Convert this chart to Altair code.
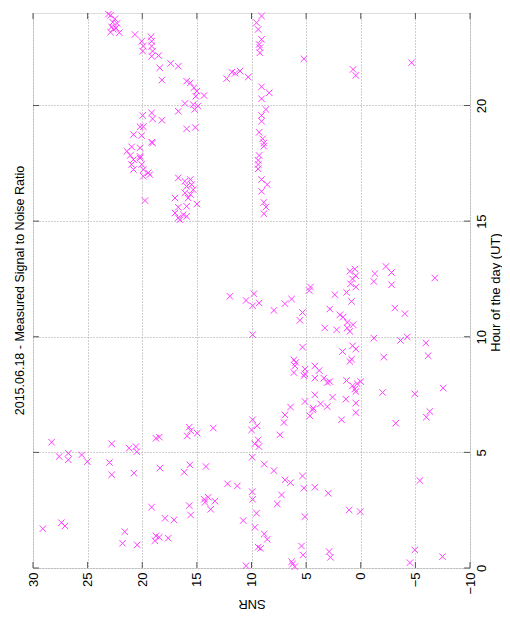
import altair as alt
import pandas as pd

# Measured points: SNR (dB) and hour of day (UT)
snr = [
    23.1, 22.9, 22.5, 22.7, 22.3, 22.8, 22.65, 22.4, 22.1, 22.9,
    20.67, 20.05, 19.9, 19.96, 19.2, 19.14, 19.14, 19.05, 19.14, 18.5, 18.4, 17.4, 16.7, 18.2,
    15.94, 15.6, 15.27, 15.0, 15.1, 14.35, 16.1, 15.33, 14.9, 15.2, 16.7, 15.94, 15.15,
    19.96, 19.14, 19.05, 18.2, 19.9, 20.2, 20.8, 20.05, 19.14, 19.05, 20.97, 21.4, 20.2, 21.1, 20.2,
    20.8, 20.2, 20.97, 20.05, 20.8, 19.9, 19.45, 19.9, 19.3, 19.75,
    16.7, 16.1, 15.6, 15.94, 15.48, 15.33, 16.1, 15.6, 15.8, 17.0, 15.0, 16.7, 15.94, 17.0, 16.25, 16.7, 15.94, 16.55,
    12.28, 11.8, 11.5, 11.05, 10.3,
    9.08, 9.54, 9.39, 9.08, 9.3, 9.23, 9.23, 5.2,
    9.08, 8.38, 9.08, 8.68, 9.08, 9.08, 9.3, 8.98, 8.87, 8.87, 9.3, 9.39, 9.39, 9.39, 9.08, 8.56, 9.08, 8.87, 8.68, 8.87,
    0.7, 0.45, -4.65,
    28.3, 27.6, 26.77, 26.77, 25.55, 25.03, 22.8, 23.0, 22.8, 21.2, 20.58, 20.5, 20.76, 18.75, 18.44, 18.38, 19.14, 17.92, 17.1,
    29.1, 27.4, 27.07, 21.6, 21.8, 20.46, 18.75, 18.44, 18.84, 17.62,
    15.7, 15.57, 15.88, 14.97, 13.5, 15.64, 16.16, 14.17, 12.19, 11.3, 15.7, 15.57, 14.33, 13.96, 14.26, 13.74, 13.35, 10.76, 10.5,
    9.9, 9.9, 9.99, 9.48, 9.39, 9.32, 9.94, 9.94, 9.9, 9.54, 9.69, 9.39,
    11.98, 10.5, 9.78, 9.9, 9.3, 7.95,
    7.4, 8.83, 7.95, 7.64, 8.83, 8.56, 9.17, 9.7,
    0.54, 1.0, 0.45, 0.75, 0.93, 0.45, 1.3, 2.37, 0.84, 4.6, 4.72, 6.33, 6.94, 5.33, 5.57, 2.83, 1.91, 1.61, 1.24, 1.0,
    3.29, 2.21, 5.33, 1.67, 0.75, 0.45, 0.84, 6.12, 5.94, 6.03, 6.12, 5.11, 5.11, 5.2, 4.2, 3.8, 3.38, 3.07, 4.2, 1.3,
    0.75, 0.54, 0.33, 0.45, 4.2, 2.58, 1.36, 5.11, 3.68, 3.07, 6.43, 4.35,
    6.94, 7.03, 4.41, 4.66, 1.76, 0.45, 6.94, 6.43, 5.33, 5.2, 4.2, 2.98, 7.25, 5.11, 1.06, 0.05, 5.42, 5.27, 2.9, 2.77,
    6.33, 6.24, 6.03,
    -2.3, -1.29, -2.82, -1.2, -2.82, -6.78, -3.12, -4.04, -1.2, -3.64, -4.25, -5.96, -6.17, -2.11, 0.0, -2.0, -4.95,
    -7.54, -6.32, -6.0, -3.2, -5.41, -4.95, -4.5, -7.48,
    2.83, 0.45, 1.0, 1.24, 0.7,
]
hour = [
    23.95, 23.9, 23.75, 23.6, 23.55, 23.4, 23.3, 23.35, 23.15, 23.17,
    23.07, 22.78, 22.57, 22.35, 22.97, 22.78, 22.57, 22.35, 22.13, 22.16, 21.63, 21.82, 21.7, 21.1,
    21.05, 20.98, 20.77, 20.62, 20.4, 20.43, 20.09, 20.04, 19.97, 19.83, 19.75, 18.99, 19.05,
    19.57, 19.68, 19.42, 19.36, 19.08, 19.08, 18.74, 18.7, 18.41, 18.38, 18.21, 18.02, 18.17, 17.84, 17.8,
    17.66, 17.73, 17.45, 17.45, 17.23, 17.23, 17.09, 16.94, 17.01, 15.89,
    16.87, 16.72, 16.8, 16.5, 16.58, 16.36, 16.22, 16.15, 16.0, 16.0, 15.74, 15.6, 15.64, 15.35, 15.28, 15.14, 15.21, 15.06,
    21.16, 21.44, 21.39, 21.49, 21.23,
    23.87, 23.58, 23.29, 22.86, 22.64, 22.5, 22.28, 22.02,
    20.81, 20.55, 20.29, 19.83, 19.57, 19.32, 18.84, 18.56, 18.38, 18.24, 17.84, 17.63, 17.45, 17.26, 16.8, 16.58, 16.29, 15.81, 15.61, 15.32,
    21.56, 21.3, 21.85,
    5.44, 4.82, 4.96, 4.68, 4.89, 4.6, 5.37, 4.56, 4.03, 5.18, 5.25, 5.03, 4.1, 5.61, 5.66, 4.32, 2.63, 2.15, 2.08,
    1.7, 1.96, 1.82, 1.57, 1.07, 1.0, 1.39, 1.33, 1.18, 1.29,
    6.09, 5.94, 5.71, 5.83, 6.05, 4.46, 4.14, 4.39, 3.64, 3.55, 2.7, 2.29, 2.97, 3.06, 2.84, 2.54, 2.89, 2.05, 0.1,
    10.09, 6.41, 5.97, 6.15, 5.54, 5.25, 4.79, 3.3, 2.97, 2.37, 1.76, 0.9,
    11.75, 11.57, 11.86, 11.34, 11.46, 11.14,
    5.76, 4.49, 4.21, 2.77, 1.47, 1.24, 0.85, 5.37,
    12.93, 12.83, 12.64, 12.5, 12.29, 12.15, 11.92, 11.82, 11.53, 12.15, 12.0, 11.63, 11.43, 11.05, 10.71, 11.2, 10.95, 10.85, 10.62, 10.23,
    10.38, 10.3, 9.55, 9.36, 9.61, 9.47, 9.03, 9.0, 8.89, 8.74, 8.45, 8.6, 8.4, 8.31, 8.74, 8.54, 8.21, 8.02, 8.21, 8.11,
    7.88, 7.74, 7.97, 7.63, 7.49, 7.39, 7.3, 7.2, 7.1, 6.98, 6.96, 6.91,
    6.62, 6.29, 6.84, 6.58, 6.41, 6.72, 3.81, 3.69, 3.98, 3.45, 3.49, 3.23, 3.16, 2.22, 2.51, 2.44, 0.95, 0.56, 0.71, 0.46,
    0.27, 0.17, 0.06,
    13.04, 12.73, 12.78, 12.39, 12.25, 12.54, 11.24, 11.0, 9.94, 9.84, 9.99, 9.73, 9.18, 9.12, 8.06, 7.59, 7.53,
    7.78, 6.77, 6.52, 6.26, 3.78, 0.78, 0.23, 0.49,
    8.06, 7.13, 8.93, 10.38, 10.52,
]

snr_ticks = [-10, -5, 0, 5, 10, 15, 20, 25, 30]
hour_ticks = [0, 5, 10, 15, 20]

title_text = "2015.06.18 - Measured Signal to Noise Ratio"

W, H = 437, 555
FONT = "Liberation Sans"
FRAME = "#555555"

df = pd.DataFrame({"snr": snr, "hour": hour})
xt = pd.DataFrame({"snr": snr_ticks})
yt = pd.DataFrame({"hour": hour_ticks})

xscale = alt.Scale(domain=[-10, 30], reverse=True, nice=False, zero=False)
yscale = alt.Scale(domain=[0, 24], nice=False, zero=False)

xaxis = alt.Axis(
    values=snr_ticks, labelAngle=270, labelAlign="right", labelBaseline="middle",
    labelPadding=4, labelFontSize=13, labelFont=FONT, labelColor="black",
    labelFlush=False, labelOverlap=False,
    ticks=False, domain=False, grid=True, gridDash=[1, 2], gridColor="#a0a0a0",
    gridWidth=1, title="SNR", titleAngle=180, titleAlign="center",
    titleBaseline="middle", titleX=W / 2, titleY=35, titleFont=FONT,
    titleFontSize=13, titleFontWeight="normal", titleColor="black")
yaxis = alt.Axis(
    orient="right", values=hour_ticks, labelAngle=270, labelAlign="center",
    labelBaseline="top", labelPadding=5, labelFontSize=13, labelFont=FONT,
    labelColor="black", labelFlush=False, labelOverlap=False,
    ticks=False, domain=False, grid=True, gridDash=[1, 2], gridColor="#a0a0a0",
    gridWidth=1, title="Hour of the day (UT)", titleAngle=270, titleAlign="center",
    titleBaseline="middle", titleX=25, titleY=279, titleFont=FONT,
    titleFontSize=13, titleFontWeight="normal", titleColor="black")

points = alt.Chart(df).mark_point(
    shape="M-1,-1L1,1M-1,1L1,-1", filled=False, size=42, strokeWidth=1,
    color="#ff3cff", opacity=1
).encode(
    x=alt.X("snr:Q", scale=xscale, axis=xaxis, title="SNR"),
    y=alt.Y("hour:Q", scale=yscale, axis=yaxis, title="Hour of the day (UT)"),
)

tick_bottom = alt.Chart(xt).mark_rule(color=FRAME, strokeWidth=1).encode(
    x=alt.X("snr:Q", scale=xscale, axis=xaxis, title="SNR"),
    y=alt.value(H), y2=alt.value(H - 6))
tick_top = alt.Chart(xt).mark_rule(color=FRAME, strokeWidth=1).encode(
    x=alt.X("snr:Q", scale=xscale, axis=xaxis, title="SNR"),
    y=alt.value(0), y2=alt.value(6))
tick_left = alt.Chart(yt).mark_rule(color=FRAME, strokeWidth=1).encode(
    y=alt.Y("hour:Q", scale=yscale, axis=yaxis, title="Hour of the day (UT)"),
    x=alt.value(0), x2=alt.value(6))
tick_right = alt.Chart(yt).mark_rule(color=FRAME, strokeWidth=1).encode(
    y=alt.Y("hour:Q", scale=yscale, axis=yaxis, title="Hour of the day (UT)"),
    x=alt.value(W), x2=alt.value(W - 6))

chart = alt.layer(tick_bottom, tick_top, tick_left, tick_right, points).properties(
    width=W, height=H,
    autosize=alt.AutoSizeParams(type="none"),
    padding={"left": 25, "top": 5, "right": 32, "bottom": 43},
    title=alt.TitleParams(
        text=title_text, orient="left", anchor="middle", fontSize=12.5,
        fontWeight="normal", font=FONT, color="black", offset=-9,
        baseline="alphabetic"),
).configure_view(stroke=FRAME, strokeWidth=1).configure(background="white")

chart.save("out.html", embed_options={"renderer": "svg", "actions": False})
